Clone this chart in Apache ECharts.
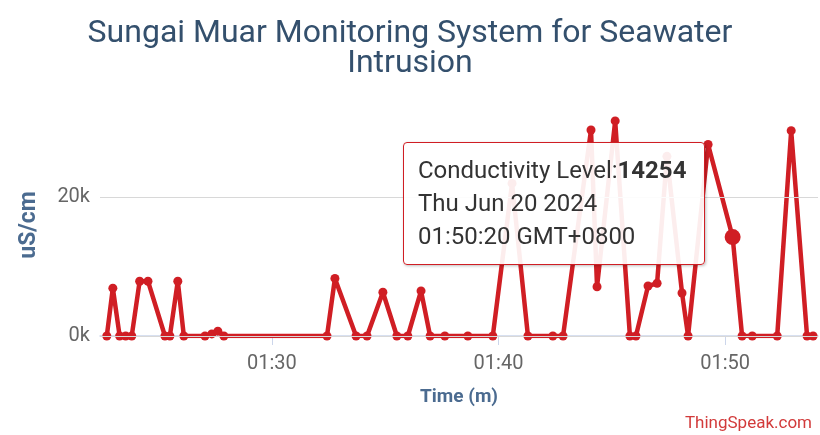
<!DOCTYPE html>
<html><head><meta charset="utf-8">
<script src="https://cdn.jsdelivr.net/npm/echarts@6/dist/echarts.min.js"></script>
<style>html,body{margin:0;padding:0;background:#fff}#c{width:820px;height:435px}</style>
</head><body><div id="c"></div>
<script>
const chartTitle = 'Sungai Muar Monitoring System for Seawater\nIntrusion';
const seriesName = 'Conductivity Level';
const dateStr = '2024-06-20';
const times = ['01:22:43','01:22:59','01:23:17','01:23:33','01:23:49','01:24:10','01:24:32','01:25:17','01:25:30','01:25:51',
  '01:26:07','01:27:03','01:27:21','01:27:37','01:27:53','01:32:26','01:32:47','01:33:43','01:34:12','01:34:54',
  '01:35:31','01:36:00','01:36:35','01:36:59','01:37:38','01:38:39','01:39:45','01:40:36','01:41:18','01:42:24',
  '01:42:51','01:44:05','01:44:21','01:45:09','01:45:48','01:46:04','01:46:36','01:47:00','01:47:26','01:48:06',
  '01:48:22','01:49:15','01:50:20','01:50:45','01:51:12','01:52:18','01:52:55','01:53:37','01:53:53'];
const values = [0,6900,0,0,0,7900,7900,0,0,7900,
  0,0,300,700,0,0,8300,0,0,6300,
  0,0,6500,0,0,0,0,22000,0,0,
  0,29700,7100,31000,0,0,7200,7600,25900,6200,
  0,27600,14254,0,0,0,29600,0,0];
const xRange = ['01:22:25','01:54:06'];
const xTickLabels = ['01:30','01:40','01:50'];
const yTicks = [0, 20000];
const yMax = 32000;
const highlightTime = '01:50:20';
const tzLabel = 'GMT+0800';

function toTs(t){
  const d = dateStr.split('-').map(Number), h = t.split(':').map(Number);
  return new Date(d[0], d[1]-1, d[2], h[0], h[1], h[2]||0).getTime();
}
const data = times.map((t,i)=>[toTs(t), values[i]]);
const xTickValues = xTickLabels.map(toTs);
const hlIndex = times.indexOf(highlightTime);
const RED = '#d01e24';

const chart = echarts.init(document.getElementById('c'), null, {renderer:'canvas'});
chart.setOption({
  animation:false,
  textStyle:{fontFamily:'Roboto'},
  title:[{
    text: chartTitle, left:'center', top:14,
    textStyle:{fontFamily:'Roboto', fontSize:32, fontWeight:'normal', color:'#34506d', lineHeight:30}
  },{
    text:'ThingSpeak.com', right:3, top:410,
    textStyle:{fontFamily:'Roboto', fontSize:17, fontWeight:'normal', color:'#d23a3a'}
  }],
  grid:{left:100, right:2, top:114, bottom:99},
  tooltip:{
    trigger:'item', triggerOn:'none', alwaysShowContent:true, transitionDuration:0,
    position:[403,142],
    backgroundColor:'rgba(255,255,255,0.92)', borderColor:RED, borderWidth:1.5, borderRadius:4,
    padding:[11,18,11,14],
    textStyle:{fontFamily:'Roboto', fontSize:24, color:'#333', lineHeight:33},
    extraCssText:'box-shadow:1px 1px 3px rgba(0,0,0,0.25);line-height:33px;',
    formatter:(p)=>{
      const t = times[p.dataIndex];
      const h = t.split(':').map(Number), d = dateStr.split('-').map(Number);
      const ds = new Date(d[0], d[1]-1, d[2], h[0], h[1], h[2]).toDateString();
      return seriesName + ':<b>' + p.value[1] + '</b><br/>' + ds + '<br/>' + t + ' ' + tzLabel;
    }
  },
  xAxis:{
    type:'value', min:toTs(xRange[0]), max:toTs(xRange[1]), offset:5, scale:true,
    name:'Time (m)', nameLocation:'middle', nameGap:47,
    nameTextStyle:{fontFamily:'Roboto', fontSize:19, fontWeight:'bold', color:'#4b6b90'},
    axisLine:{lineStyle:{color:'#ccd6eb', width:1.5}},
    axisTick:{show:true, length:9, lineStyle:{color:'#ccd6eb'}, customValues:xTickValues},
    axisLabel:{fontFamily:'Roboto', fontSize:20, color:'#666', margin:13, customValues:xTickValues,
      formatter:(v)=> { const i = xTickValues.indexOf(v); return i >= 0 ? xTickLabels[i] : ''; }},
    splitLine:{show:false}
  },
  yAxis:{
    type:'value', min:0, max:yMax, interval:yTicks[1]-yTicks[0],
    name:'uS/cm', nameLocation:'middle', nameGap:59, nameRotate:90,
    nameTextStyle:{fontFamily:'Roboto', fontSize:23, fontWeight:'bold', color:'#4b6b90'},
    axisLine:{show:false}, axisTick:{show:false},
    axisLabel:{fontFamily:'Roboto', fontSize:20, color:'#666', margin:10, showMaxLabel:false,
      formatter:(v)=> yTicks.includes(v) ? (v/1000)+'k' : ''},
    splitLine:{show:false}
  },
  series:[{
    type:'line', name:seriesName, data:data,
    color:RED,
    lineStyle:{width:4.5, color:RED},
    symbol:'circle',
    symbolSize:(v,p)=> p.dataIndex===hlIndex ? 16 : 9,
    itemStyle:{color:RED},
    showAllSymbol:true,
    markLine:{
      silent:true, symbol:'none', label:{show:false},
      lineStyle:{color:'#d8d8d8', width:1, type:'solid'},
      data: yTicks.map(v=>({yAxis:v}))
    },
    z:3
  }]
});
chart.dispatchAction({type:'showTip', seriesIndex:0, dataIndex:hlIndex});
</script>
</body></html>
